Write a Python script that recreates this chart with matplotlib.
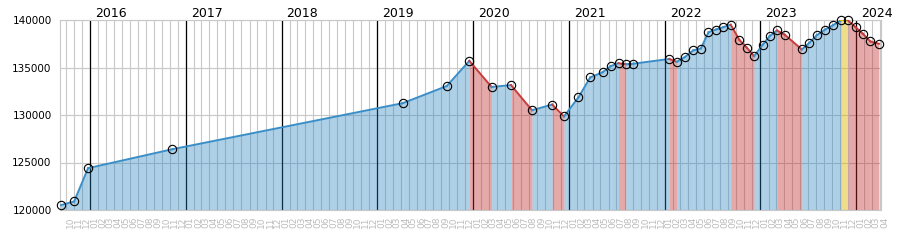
import matplotlib
matplotlib.use("Agg")
import matplotlib.pyplot as plt
import pandas as pd

# readings (date, value)
dates = ['2015-09-11', '2015-11-02', '2015-12-25', '2016-11-11', '2019-04-09',
         '2019-09-23', '2019-12-18', '2020-03-12', '2020-05-25', '2020-08-13',
         '2020-10-29', '2020-12-13', '2021-02-06', '2021-03-23', '2021-05-09',
         '2021-06-10', '2021-07-09', '2021-08-06', '2021-09-04', '2022-01-19',
         '2022-02-16', '2022-03-19', '2022-04-20', '2022-05-19', '2022-06-17',
         '2022-07-16', '2022-08-13', '2022-09-10', '2022-10-13', '2022-11-10',
         '2022-12-08', '2023-01-10', '2023-02-05', '2023-03-05', '2023-04-04',
         '2023-06-08', '2023-07-07', '2023-08-04', '2023-09-05', '2023-10-05',
         '2023-11-04', '2023-12-01', '2023-12-30', '2024-01-27', '2024-02-24',
         '2024-03-28']
values = [120500, 120900, 124400, 126400, 131250,
          133050, 135700, 132950, 133150, 130500,
          131100, 129850, 131850, 133950, 134500,
          135150, 135450, 135350, 135400, 135900,
          135600, 136100, 136800, 137000, 138700,
          139000, 139250, 139500, 137900, 137100,
          136200, 137400, 138300, 138900, 138450,
          136900, 137600, 138400, 139000, 139450,
          139950, 139950, 139250, 138550, 137750,
          137500]
years = [2016, 2017, 2018, 2019, 2020, 2021, 2022, 2023, 2024]
y_ticks = [120000, 125000, 130000, 135000, 140000]

d = pd.to_datetime(dates)

fig = plt.figure(figsize=(9, 2.5), dpi=100)
ax = fig.add_axes([60 / 900, 40 / 250, 821 / 900, 190 / 250])

# colours: (fill, fill alpha, line)
up = ('#2282c0', 0.37, '#3a8ec8')
down = ('#c02a2a', 0.4, '#c83c3c')
flat = ('#dcb400', 0.45, '#e0b000')

for i in range(len(values) - 1):
    diff = values[i + 1] - values[i]
    fc, a, lc = up if diff > 0 else (down if diff < 0 else flat)
    ax.fill_between(d[i:i + 2], values[i:i + 2], 120000, color=fc, alpha=a,
                    linewidth=0, zorder=1)
    ax.plot(d[i:i + 2], values[i:i + 2], color=lc, lw=1.4, zorder=3)

ax.plot(d, values, 'o', mfc='none', mec='black', ms=6, mew=0.8, zorder=5,
        clip_on=False)

ax.set_ylim(120000, 140000)
ax.set_xlim(pd.Timestamp('2015-09-09'), pd.Timestamp('2024-04-05'))

month_ticks = pd.date_range('2015-10-01', '2024-04-01', freq='MS')
ax.set_xticks(month_ticks)
ax.set_xticklabels(month_ticks.strftime('%m'), rotation=90, ha='left',
                   fontsize=6.5, color='#bcbcbc')
ax.set_yticks(y_ticks)
ax.set_yticklabels([str(v) for v in y_ticks], fontsize=7.5)
ax.tick_params(axis='both', length=0)
ax.tick_params(axis='x', pad=5)
ax.tick_params(axis='y', pad=6)

ax.set_axisbelow(True)
ax.grid(True, color='#c8c8c8', lw=0.8)
for s in ax.spines.values():
    s.set_color('#c8c8c8')

trans = ax.get_xaxis_transform()
for y in years:
    yd = pd.Timestamp(f'{y}-01-01')
    ax.axvline(yd, color='black', lw=0.9, zorder=0.8)
    ax.text(yd + pd.Timedelta(days=19), 1.035, str(y), transform=trans,
            ha='left', va='center', fontsize=9, clip_on=False)

fig.savefig('out.png', dpi=100)
